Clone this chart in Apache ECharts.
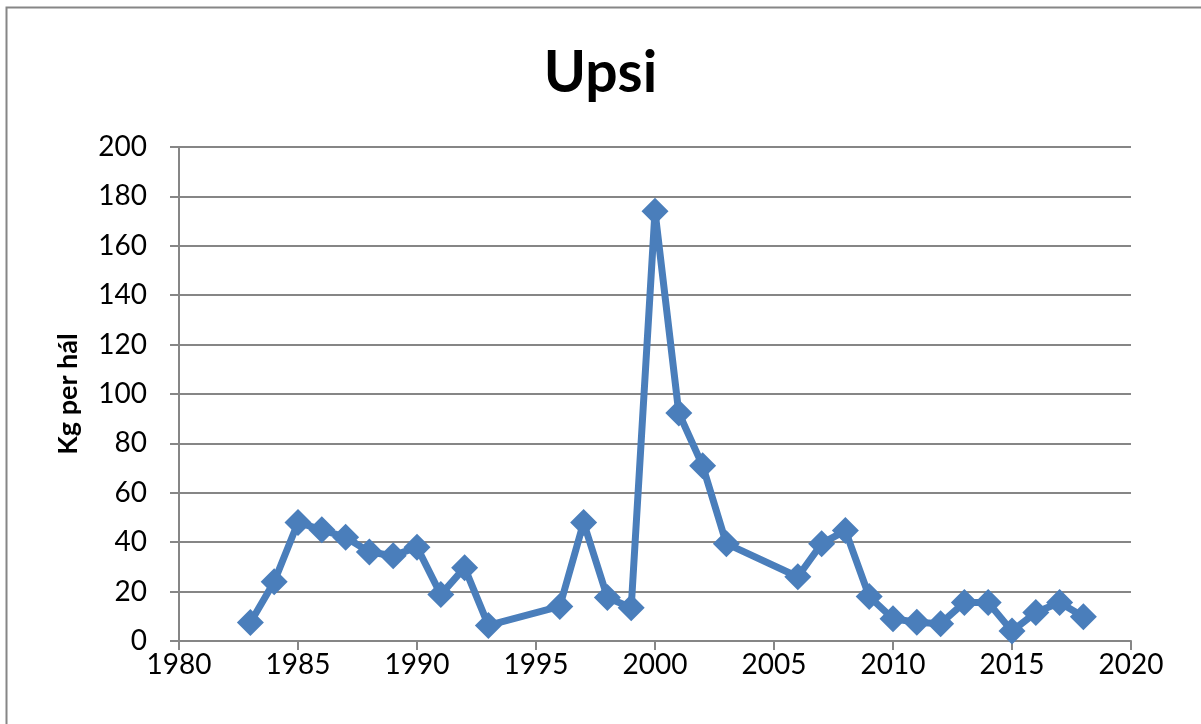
<!DOCTYPE html>
<html><head><meta charset="utf-8">
<script src="https://cdn.jsdelivr.net/npm/echarts@6/dist/echarts.min.js"></script>
<style>html,body{margin:0;padding:0;background:#fff}#c{width:1201px;height:724px}</style>
</head><body><div id="c"></div>
<script>
const years = [1983,1984,1985,1986,1987,1988,1989,1990,1991,1992,1993,1996,1997,1998,1999,2000,2001,2002,2003,2006,2007,2008,2009,2010,2011,2012,2013,2014,2015,2016,2017,2018];
const values = [7.5,24,48,45,42,36,34.5,38,18.8,29.7,6.3,14,48,17.6,13.5,174,92.3,71,39.4,26,39.4,44.7,18,9,7.6,7,15.6,15.6,4,11.5,15.6,9.8];
const titleText = 'Upsi';
const yName = 'Kg per hál';
const chart = echarts.init(document.getElementById('c'));
const font = 'Lato, "Open Sans", sans-serif';
chart.setOption({
  animation:false,
  backgroundColor:'#fff',
  graphic:[{type:'rect',shape:{x:6.5,y:7.5,width:1200,height:720},style:{fill:'none',stroke:'#868686',lineWidth:2}}],
  title:{text:titleText,left:'center',top:40,textStyle:{fontFamily:font,fontSize:57,fontWeight:'bold',color:'#000'}},
  grid:{left:179,right:70,top:147,bottom:83},
  xAxis:{type:'value',min:1980,max:2020,interval:5,
    axisLine:{show:true,lineStyle:{color:'#868686',width:2}},
    axisTick:{show:true,length:9,lineStyle:{color:'#868686',width:2}},
    splitLine:{show:false},
    axisLabel:{fontFamily:font,fontSize:28,color:'#000',margin:10,formatter:v=>String(v)}},
  yAxis:{type:'value',min:0,max:200,interval:20,name:yName,nameLocation:'middle',nameGap:97,
    nameTextStyle:{fontFamily:font,fontSize:27,fontWeight:'bold',color:'#000'},
    axisLine:{show:true,lineStyle:{color:'#868686',width:2}},
    axisTick:{show:true,inside:false,length:9,lineStyle:{color:'#868686',width:2}},
    splitLine:{show:true,lineStyle:{color:'#868686',width:2}},
    axisLabel:{fontFamily:font,fontSize:28,color:'#000',margin:32}},
  series:[{type:'line',data:years.map((y,i)=>[y,values[i]]),
    symbol:'diamond',symbolSize:27,
    lineStyle:{color:'#4a7ebb',width:7},
    itemStyle:{color:'#4a7ebb'}}]
});
</script></body></html>
